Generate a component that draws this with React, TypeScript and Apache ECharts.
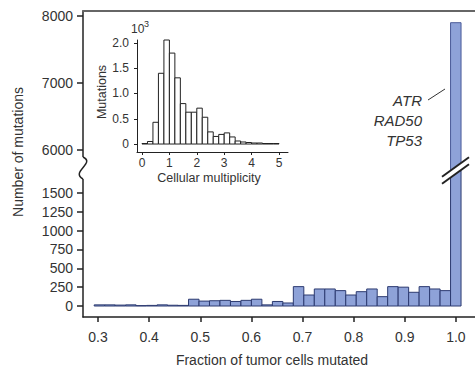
import React, { useEffect, useRef } from "react";
import * as echarts from "echarts";

const FONT = '"Liberation Sans", Arial, Helvetica, sans-serif';

// Main histogram: fraction of tumor cells mutated
const mainBinStart = 0.2925;
const mainBinWidth = 0.0205;
const mainCounts = [
  15, 15, 12, 15, 5, 8, 15, 10, 8, 90, 65, 70, 75, 60, 75, 90, 15, 60, 40,
  257, 146, 226, 226, 204, 146, 190, 226, 124, 257, 250, 182, 257, 226, 204,
  7900,
];
const mainXTicks = [0.3, 0.4, 0.5, 0.6, 0.7, 0.8, 0.9, 1.0];
const lowerYTicks = [0, 250, 500, 750, 1000, 1250, 1500];
const upperYTicks = [6000, 7000, 8000];

// Inset histogram: cellular multiplicity (x10^3 mutations)
const insetBinStart = 0;
const insetBinWidth = 0.2;
const insetCounts = [
  0.01, 0.05, 0.43, 1.4, 2.18, 1.8, 1.31, 0.8, 0.63, 0.63, 0.71, 0.53, 0.24,
  0.15, 0.19, 0.22, 0.14, 0.06, 0.04, 0.03, 0.02, 0.02, 0.01, 0.01, 0.01,
];
const insetXTicks = [0, 1, 2, 3, 4, 5];
const insetYTicks = [0, 0.5, 1, 1.5, 2];

const geneLabels = ["ATR", "RAD50", "TP53"];

const X_MIN = 0.2706;
const X_MAX = 1.0373;
const UP_MIN = 5686.6;
const UP_MAX = 8074.6;
const LO_MIN = -146;
const LO_MAX = 1792;
const IN_X_MIN = -0.182;
const IN_X_MAX = 5.328;
const IN_Y_MIN = -0.158;
const IN_Y_MAX = 2.059;

function histRenderer(lo: number, hi: number, fill: string, stroke: string, lw: number) {
  return (_params: any, api: any) => {
    const x0 = api.value(0);
    const x1 = api.value(1);
    const v = api.value(2);
    if (v <= lo) return null;
    const top = Math.min(v, hi);
    const base = Math.max(0, lo);
    const p0 = api.coord([x0, top]);
    const p1 = api.coord([x1, base]);
    return {
      type: "rect",
      shape: { x: p0[0], y: p0[1], width: p1[0] - p0[0], height: p1[1] - p0[1] },
      style: { fill, stroke, lineWidth: lw },
    };
  };
}

const axisColor = "#222";
const textColor = "#333";

export default function App() {
  const ref = useRef<HTMLDivElement>(null);
  useEffect(() => {
    document.body.style.margin = "0";
    if (!ref.current) return;
    const chart = echarts.init(ref.current, undefined, { renderer: "svg" });

    const mainData = mainCounts.map((c, i) => [
      mainBinStart + i * mainBinWidth,
      mainBinStart + (i + 1) * mainBinWidth,
      c,
    ]);
    const insetData = insetCounts.map((c, i) => [
      insetBinStart + i * insetBinWidth,
      insetBinStart + (i + 1) * insetBinWidth,
      c,
    ]);

    const label = (size: number, extra: any = {}) => ({
      fontSize: size,
      fontFamily: FONT,
      color: textColor,
      ...extra,
    });

    const mainLine = { show: true, onZero: false, lineStyle: { color: axisColor, width: 1.5 } };
    const insetLine = { show: true, onZero: false, lineStyle: { color: axisColor, width: 1 } };
    const plain = (v: number) => String(v);

    const centered = (text: string, x: number, y: number, font: string, rotation = 0) => ({
      type: "text",
      z: 101,
      x,
      y,
      rotation,
      style: {
        text,
        font,
        fill: textColor,
        align: "center",
        verticalAlign: "middle",
        textAlign: "center",
        textVerticalAlign: "middle",
      },
    });

    const option: any = {
      animation: false,
      backgroundColor: "#fff",
      grid: [
        { left: 83, right: 0, top: 11, height: 160 },
        { left: 83, right: 0, top: 171, height: 146 },
        { left: 137, top: 40, width: 151, height: 112 },
      ],
      xAxis: [
        {
          gridIndex: 0,
          type: "value",
          min: X_MIN,
          max: X_MAX,
          position: "top",
          axisLine: { show: true, onZero: false, lineStyle: { color: "#666", width: 2 } },
          axisTick: { show: false },
          axisLabel: { show: false },
          splitLine: { show: false },
        },
        {
          gridIndex: 1,
          type: "value",
          min: X_MIN,
          max: X_MAX,
          position: "bottom",
          axisLine: mainLine,
          axisTick: {
            show: true,
            customValues: mainXTicks,
            length: 5,
            lineStyle: { color: axisColor, width: 1.5 },
          },
          axisLabel: label(14, {
            customValues: mainXTicks,
            margin: 13,
            formatter: (v: number) => v.toFixed(1),
          }),
          splitLine: { show: false },
        },
        {
          gridIndex: 2,
          type: "value",
          min: IN_X_MIN,
          max: IN_X_MAX,
          position: "bottom",
          axisLine: insetLine,
          axisTick: {
            show: true,
            customValues: insetXTicks,
            length: 3,
            lineStyle: { color: axisColor, width: 1 },
          },
          axisLabel: label(12, { customValues: insetXTicks, margin: 5, formatter: plain }),
          splitLine: { show: false },
        },
      ],
      yAxis: [
        {
          gridIndex: 0,
          type: "value",
          min: UP_MIN,
          max: UP_MAX,
          axisLine: mainLine,
          axisTick: {
            show: true,
            customValues: upperYTicks,
            length: 6,
            lineStyle: { color: axisColor, width: 1.5 },
          },
          axisLabel: label(14, { customValues: upperYTicks, margin: 10, formatter: plain }),
          splitLine: { show: false },
        },
        {
          gridIndex: 1,
          type: "value",
          min: LO_MIN,
          max: LO_MAX,
          axisLine: mainLine,
          axisTick: {
            show: true,
            customValues: lowerYTicks,
            length: 6,
            lineStyle: { color: axisColor, width: 1.5 },
          },
          axisLabel: label(14, { customValues: lowerYTicks, margin: 10, formatter: plain }),
          splitLine: { show: false },
        },
        {
          gridIndex: 2,
          type: "value",
          min: IN_Y_MIN,
          max: IN_Y_MAX,
          axisLine: insetLine,
          axisTick: {
            show: true,
            customValues: insetYTicks,
            length: 3,
            lineStyle: { color: axisColor, width: 1 },
          },
          axisLabel: label(12, {
            customValues: insetYTicks,
            margin: 8,
            formatter: (v: number) => (v === 0 ? "0" : v.toFixed(1)),
          }),
          splitLine: { show: false },
        },
      ],
      series: [
        {
          type: "custom",
          xAxisIndex: 0,
          yAxisIndex: 0,
          data: mainData,
          encode: { x: [0, 1], y: 2 },
          renderItem: histRenderer(UP_MIN, UP_MAX, "#8ea2d8", "#4a5b98", 1),
        },
        {
          type: "custom",
          xAxisIndex: 1,
          yAxisIndex: 1,
          data: mainData,
          encode: { x: [0, 1], y: 2 },
          renderItem: histRenderer(LO_MIN, LO_MAX, "#8ea2d8", "#2c3a70", 1),
        },
        {
          type: "custom",
          xAxisIndex: 2,
          yAxisIndex: 2,
          data: insetData,
          encode: { x: [0, 1], y: 2 },
          renderItem: histRenderer(IN_Y_MIN, IN_Y_MAX, "#ffffff", "#222", 1),
        },
      ],
      graphic: [
        // axis break squiggle on left axis
        { type: "rect", z: 100, shape: { x: 78, y: 157, width: 9, height: 22 }, style: { fill: "#fff" } },
        {
          type: "bezierCurve",
          z: 101,
          shape: { x1: 83, y1: 157, cpx1: 96, cpy1: 163, cpx2: 70, cpy2: 172, x2: 83, y2: 179 },
          style: { stroke: axisColor, lineWidth: 1.5, fill: "none" },
        },
        // break on the tall bar
        {
          type: "polygon",
          z: 100,
          shape: { points: [[443, 176], [468, 158], [468, 165], [443, 183]] },
          style: { fill: "#fff" },
        },
        { type: "line", z: 101, shape: { x1: 442, y1: 176.7, x2: 469, y2: 157.3 }, style: { stroke: axisColor, lineWidth: 2 } },
        { type: "line", z: 101, shape: { x1: 442, y1: 183.7, x2: 469, y2: 164.3 }, style: { stroke: axisColor, lineWidth: 2 } },
        // leader line
        { type: "line", z: 101, shape: { x1: 428, y1: 100, x2: 445, y2: 89 }, style: { stroke: textColor, lineWidth: 1 } },
        ...geneLabels.map((g, i) => ({
          type: "text",
          z: 101,
          x: 422,
          y: 100 + i * 20,
          style: {
            text: g,
            font: `italic 15px ${FONT}`,
            fill: textColor,
            align: "right",
            verticalAlign: "middle",
            textAlign: "right",
            textVerticalAlign: "middle",
          },
        })),
        centered("Number of mutations", 18, 152, `14px ${FONT}`, Math.PI / 2),
        centered("Fraction of tumor cells mutated", 272, 360, `14px ${FONT}`),
        centered("Mutations", 102, 92, `12.5px ${FONT}`, Math.PI / 2),
        centered("Cellular multiplicity", 209, 178, `12.5px ${FONT}`),
        {
          type: "text",
          z: 101,
          x: 131,
          y: 29,
          style: {
            text: "10",
            font: `12px ${FONT}`,
            fill: textColor,
            align: "left",
            verticalAlign: "middle",
            textAlign: "left",
            textVerticalAlign: "middle",
          },
        },
        {
          type: "text",
          z: 101,
          x: 144,
          y: 24,
          style: {
            text: "3",
            font: `9px ${FONT}`,
            fill: textColor,
            align: "left",
            verticalAlign: "middle",
            textAlign: "left",
            textVerticalAlign: "middle",
          },
        },
      ],
    };

    chart.setOption(option);
    return () => chart.dispose();
  }, []);

  return <div ref={ref} style={{ width: 475, height: 371 }} />;
}
